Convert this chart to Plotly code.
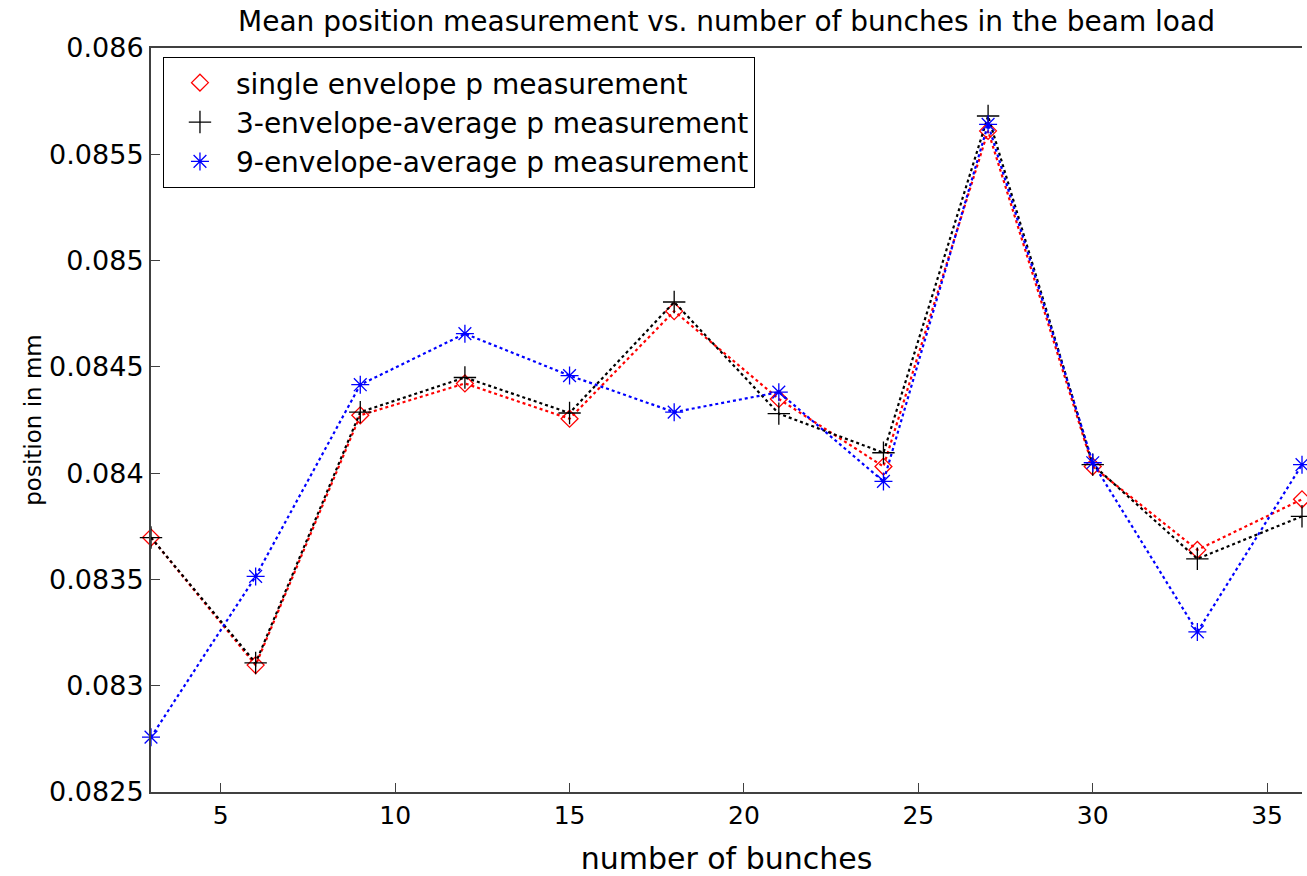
import plotly.graph_objects as go

bunches = [3, 6, 9, 12, 15, 18, 21, 24, 27, 30, 33, 36]
single_env = [0.083697, 0.083097, 0.084272, 0.084422, 0.084256, 0.084762,
              0.084349, 0.084031, 0.085610, 0.084031, 0.083639, 0.083877]
three_env = [0.083697, 0.083107, 0.084287, 0.084450, 0.084283, 0.084805,
             0.084280, 0.084096, 0.085680, 0.084040, 0.083597, 0.083797]
nine_env = [0.082758, 0.083514, 0.084416, 0.084656, 0.084459, 0.084287,
            0.084381, 0.083961, 0.085641, 0.084049, 0.083253, 0.084040]

names = ["single envelope p measurement",
         "3-envelope-average p measurement",
         "9-envelope-average p measurement"]

x_ticks = [5, 10, 15, 20, 25, 30, 35]
y_ticks = [0.0825, 0.083, 0.0835, 0.084, 0.0845, 0.085, 0.0855, 0.086]
y_tick_text = ["0.0825", "0.083", "0.0835", "0.084", "0.0845", "0.085", "0.0855", "0.086"]

title_text = "Mean position measurement vs. number of bunches in the beam load"
x_title = "number of bunches"
y_title = "position in mm"

FONT = "DejaVu Sans, sans-serif"

series = [single_env, three_env, nine_env]
colors = ["#ff0000", "#000000", "#0000ff"]
symbols = ["diamond-open", "cross-thin-open", "asterisk-open"]
msizes = [13, 16, 15]

fig = go.Figure()
for vals, nm, col, sym, ms in zip(series, names, colors, symbols, msizes):
    fig.add_trace(go.Scatter(
        x=bunches, y=vals, name=nm, mode="lines+markers", showlegend=False,
        line=dict(color=col, width=2.2, dash="dot"),
        marker=dict(symbol=sym, size=ms, color=col, line=dict(width=1.3, color=col)),
        cliponaxis=False))
# legend entries (markers only, as in the original legend)
for nm, col, sym, ms in zip(names, colors, symbols, msizes):
    fig.add_trace(go.Scatter(
        x=[None], y=[None], name=nm, mode="markers", showlegend=True,
        marker=dict(symbol=sym, size=ms, color=col, line=dict(width=1.3, color=col))))

fig.update_layout(
    width=1307, height=876,
    margin=dict(l=151, r=5, t=48, b=78),
    paper_bgcolor="white", plot_bgcolor="white",
    font=dict(family=FONT, color="black", size=26),
    title=dict(text=title_text, x=0.5, xref="paper", xanchor="center",
               y=0.976, yref="container", yanchor="middle",
               font=dict(family=FONT, size=28, color="black")),
    showlegend=True,
    legend=dict(x=0.0104, y=0.988, xanchor="left", yanchor="top",
                bgcolor="white", bordercolor="black", borderwidth=1,
                font=dict(family=FONT, size=28, color="black"),
                tracegroupgap=0, itemwidth=62),
    xaxis=dict(range=[3, 36], tickvals=x_ticks, ticks="inside", ticklen=9,
               tickcolor="#404040", tickwidth=1,
               showline=True, linecolor="#404040", linewidth=2, mirror=True,
               showgrid=False, zeroline=False,
               tickfont=dict(family=FONT, size=25),
               title=dict(text=x_title, font=dict(family=FONT, size=30), standoff=20)),
    yaxis=dict(range=[0.0825, 0.086], tickvals=y_ticks, ticktext=y_tick_text,
               ticks="inside", ticklen=9, tickcolor="#404040", tickwidth=1,
               showline=True, linecolor="#404040", linewidth=2,
               showgrid=False, zeroline=False,
               tickfont=dict(family=FONT, size=27),
               title=dict(text=y_title, font=dict(family=FONT, size=23), standoff=1)),
)

fig.write_html("out.html")
